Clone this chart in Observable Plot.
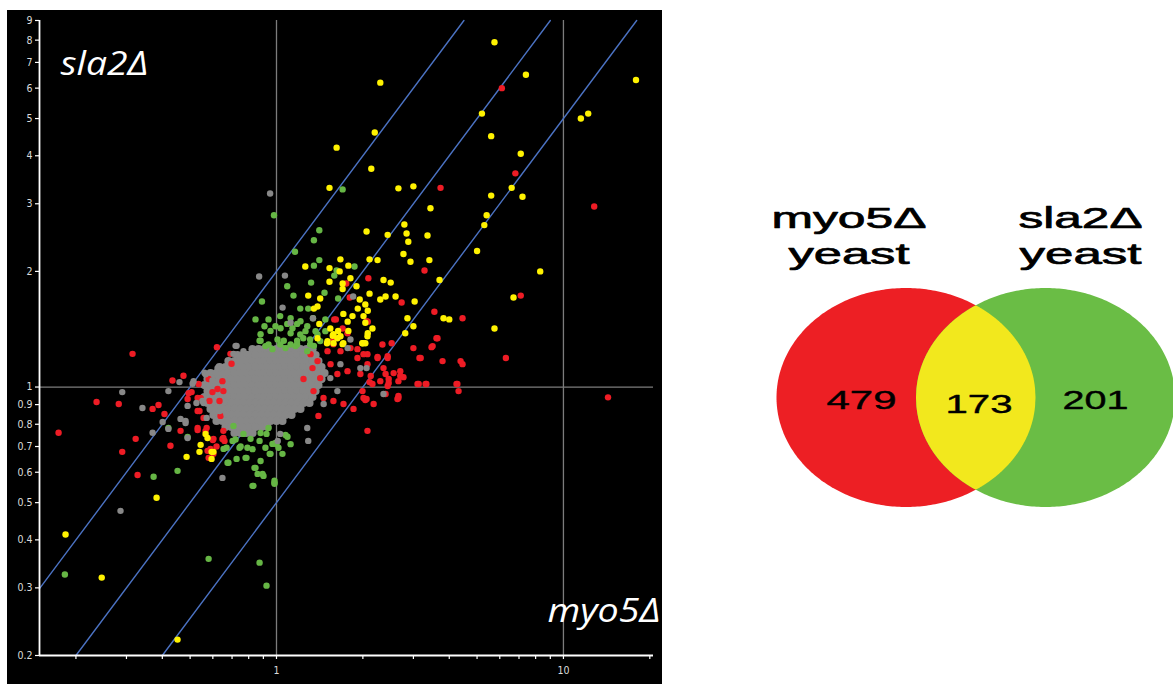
<!DOCTYPE html>
<html><head><meta charset="utf-8">
<script src="https://cdn.jsdelivr.net/npm/d3@7"></script>
<script src="https://cdn.jsdelivr.net/npm/@observablehq/plot@0.6"></script>
<style>
body{margin:0;background:#fff;width:1173px;height:684px;position:relative;overflow:hidden;font-family:"Liberation Sans",Arial,sans-serif}
#scatter{position:absolute;left:7px;top:10px;}
#venn{position:absolute;left:760px;top:190px;}
</style></head><body>
<div id="scatter"></div><div id="venn"></div>
<script>
// ---------- data ----------
const xTicks = [0.2,0.3,0.4,0.5,0.6,0.7,0.8,0.9,1,2,3,4,5,6,7,8,9,10,20];
const xTickLabels = [1,10];
const yTicks = [0.2,0.3,0.4,0.5,0.6,0.7,0.8,0.9,1,2,3,4,5,6,7,8,9];
const foldLines = [2,1,0.5];
const xLabel = "myo5Δ";
const yLabel = "sla2Δ";

// dense gray core: [y, x values]
const grayRows = [
 [1.255,[0.825,0.866,0.908,0.953,1.0,1.049,1.101,1.155,1.212,1.272,1.335]],
 [1.211,[0.731,0.767,0.805,0.845,0.887,0.930,0.976,1.024,1.075,1.128,1.184,1.242,1.303,1.368]],
 [1.168,[0.680,0.714,0.749,0.786,0.825,0.866,0.908,0.953,1.0,1.049,1.101,1.155,1.212,1.272,1.335,1.400]],
 [1.127,[0.633,0.664,0.697,0.731,0.767,0.805,0.845,0.887,0.930,0.976,1.024,1.075,1.128,1.184,1.242,1.303,1.368,1.435]],
 [1.087,[0.589,0.618,0.648,0.680,0.714,0.749,0.786,0.825,0.866,0.908,0.953,1.0,1.049,1.101,1.155,1.212,1.272,1.335,1.400,1.470]],
 [1.049,[0.575,0.603,0.633,0.664,0.697,0.731,0.767,0.805,0.845,0.887,0.930,0.976,1.024,1.075,1.128,1.184,1.242,1.303,1.368,1.435]],
 [1.012,[0.561,0.589,0.618,0.648,0.680,0.714,0.749,0.786,0.825,0.866,0.908,0.953,1.0,1.049,1.101,1.155,1.212,1.272,1.335,1.400]],
 [0.976,[0.575,0.603,0.633,0.664,0.697,0.731,0.767,0.805,0.845,0.887,0.930,0.976,1.024,1.075,1.128,1.184,1.242,1.303,1.368]],
 [0.942,[0.561,0.589,0.618,0.648,0.680,0.714,0.749,0.786,0.825,0.866,0.908,0.953,1.0,1.049,1.101,1.155,1.212,1.272,1.335]],
 [0.909,[0.575,0.603,0.633,0.664,0.697,0.731,0.767,0.805,0.845,0.887,0.930,0.976,1.024,1.075,1.128,1.184,1.242,1.303]],
 [0.877,[0.589,0.618,0.648,0.680,0.714,0.749,0.786,0.825,0.866,0.908,0.953,1.0,1.049,1.101,1.155,1.212]],
 [0.846,[0.603,0.633,0.664,0.697,0.731,0.767,0.805,0.845,0.887,0.930,0.976,1.024,1.075,1.128]],
 [0.816,[0.618,0.648,0.680,0.714,0.749,0.786,0.825,0.866,0.908,0.953,1.0,1.049]],
 [0.787,[0.664,0.697,0.731,0.767,0.805,0.845,0.887,0.930]],
 [0.759,[0.714,0.749,0.786,0.825]]
];
const grayOut = [[0.95,3.19],[0.87,1.94],[1.07,1.95],[1.12,1.47],[1.05,1.61],[1.34,1.51],[1.85,1.72],[1.81,1.33],[0.72,1.28],[0.708,1.22],[0.767,1.24],[0.633,1.12],[0.726,1.28],[0.786,1.22],[0.459,1.03],[0.29,0.97],[0.341,0.882],[0.42,0.976],[0.463,0.826],[0.482,0.806],[0.401,0.811],[0.42,0.778],[0.37,0.76],[0.286,0.476],[0.648,0.58],[0.561,1.09],[0.51,1.02],[0.526,0.909],[0.49,0.893],[0.598,1.04],[0.552,0.92],[0.571,0.831],[0.633,0.866],[0.67,0.851],[0.623,1.12],[0.566,1.08],[0.514,1.036],[0.557,0.909],[1.67,1.147],[1.77,1.263],[1.96,1.12],[1.54,1.055],[1.46,0.903],[1.63,0.976],[1.28,0.782],[1.03,0.755],[1.01,0.724],[1.29,0.724],[2.36,0.959],[0.49,0.737],[0.482,0.816],[2.06,1.12]];
const redPts = [[1.314,1.218],[1.39,1.168],[1.506,1.24],[1.579,1.293],[1.671,1.24],[1.811,1.263],[1.915,1.19],[2.01,1.218],[2.075,1.147],[2.25,1.19],[2.44,1.19],[2.36,1.12],[2.56,1.087],[2.70,1.068],[2.13,1.068],[1.96,1.081],[1.768,1.10],[1.63,1.081],[1.543,1.147],[1.42,1.055],[1.346,0.976],[1.458,0.936],[1.579,0.92],[1.712,0.903],[1.855,0.877],[2.01,0.936],[1.994,0.976],[2.16,1.018],[2.30,1.036],[2.46,1.049],[2.66,1.036],[2.70,1.10],[3.0,1.263],[3.18,1.19],[3.50,1.278],[3.64,1.34],[3.13,1.018],[3.31,1.018],[2.66,0.948],[2.64,0.931],[2.18,0.903],[2.40,0.959],[2.075,0.769],[1.40,0.841],[1.335,1.12],[1.242,1.049],[2.04,0.925],
[3.15,1.19],[3.79,1.168],[4.38,1.168],[4.45,1.147],[2.77,1.061],[2.40,1.081],[3.10,1.018],[3.33,1.018],[4.24,1.018],[4.27,1.018],[4.31,0.976],[2.66,0.936],[2.44,1.006],[2.46,1.024],[2.25,1.197],[2.44,1.203],[2.11,1.03],[2.06,0.931],
[2.06,1.484],[1.915,1.255],[2.075,1.218],[1.70,1.42],[1.579,1.33],[1.61,1.50],[1.768,1.38],[2.34,1.29],[2.52,1.30],[3.61,1.34],[3.47,1.27],
[2.09,1.92],[1.75,1.86],[1.80,1.71],[1.59,1.50],[2.73,1.66],[3.28,2.01],[3.55,1.57],[4.45,1.51],[2.08,1.48],
[6.1,6.0],[6.8,3.6],[3.73,3.3],[12.8,2.95],[7.1,1.73],[6.3,1.19],[14.3,0.94],
[0.315,1.22],[0.62,1.27],[0.691,1.22],[0.697,1.15],[0.474,1.07],[0.434,1.04],[0.236,0.914],[0.282,0.903],[0.37,0.877],[0.388,0.898],[0.407,0.851],[0.174,0.76],[0.323,0.733],[0.29,0.678],[0.463,0.769],[0.427,0.703],[0.328,0.59],
[0.531,0.773],[0.571,0.783],[0.575,0.682],[0.58,0.654],[0.6,0.728],[0.618,0.70],[0.648,0.732],[0.659,0.724],
[0.598,0.97],[0.633,0.92],[0.584,0.92],[0.539,0.866],[0.531,0.936],[0.49,0.931],[0.506,0.97],
[0.535,1.018],[0.58,1.049],[0.623,0.988],[0.648,1.036],[0.653,0.976],
[0.531,0.866],[0.557,0.831],[0.531,0.783],[0.566,0.769],[0.603,0.733],[0.589,0.69],[0.603,0.67],[0.653,0.769],
[0.494,0.964],[0.544,0.936],[0.638,0.841],[0.653,0.737]];
const greenPts = [[1.7,3.27],[0.98,2.8],[1.41,2.56],[1.35,2.41],[1.16,2.25],[1.09,1.83],[0.89,1.67],[0.845,1.50],[0.938,1.50],[0.908,1.44],[1.146,1.73],[1.41,2.14],[1.35,2.07],[1.32,1.87],[1.62,2.01],[1.59,1.95],[1.87,2.06],[1.64,1.70],[1.47,1.76],[1.21,1.60],[1.29,1.60],[1.12,1.51],[1.03,1.53],[1.09,1.46],[1.18,1.46],[1.28,1.44],[1.34,1.51],[0.953,1.40],[0.88,1.32],[1.008,1.33],[1.12,1.38],[1.21,1.37],[1.39,1.37],[1.03,1.29],[1.18,1.29],[1.31,1.29],[0.938,1.29],[0.873,1.32],[1.06,1.32],[1.24,1.34],[1.31,1.33],[1.35,1.28],[1.28,1.24],[1.12,1.29],[1.18,1.32],[0.915,1.278],[0.968,1.255],[1.075,1.263],[1.165,1.278],[1.42,1.317],[1.48,1.398],[1.368,1.398],[1.48,1.50],[1.262,1.398],[1.033,1.423],[1.137,1.423],[0.88,1.373],[0.992,1.44],[1.212,1.484],
[0.703,0.724],[0.743,0.695],[0.786,0.654],[0.825,0.689],[0.873,0.724],[0.923,0.755],[0.968,0.711],[0.67,0.695],[0.726,0.65],[0.675,0.635],[0.838,0.616],[0.894,0.594],[0.947,0.67],[0.825,0.553],[0.984,0.563],[1.0,0.71],[0.708,0.792],[0.767,0.755],[0.812,0.733],[0.88,0.759],[0.938,0.782],[0.792,0.695],[0.654,0.69],[0.68,0.635],[0.78,0.654],[0.88,0.642],[0.953,0.67],[1.049,0.67],[0.992,0.715],[1.092,0.742],[0.845,0.616],[0.859,0.594],[0.901,0.587],[0.831,0.553],[0.984,0.57],[0.984,0.56],[0.72,0.73],[0.75,0.70],[0.915,0.695],[1.016,0.695],[1.12,0.71],[1.075,0.75],
[0.49,0.741],[0.42,0.783],[0.373,0.584],[0.452,0.605],[0.183,0.325],[0.58,0.357],[0.873,0.349],[0.923,0.304]];
const yellowPts = [[5.75,7.9],[7.4,6.5],[2.3,6.2],[17.9,6.3],[11.5,5.0],[12.2,5.15],[5.2,5.15],[2.2,4.6],[1.62,4.2],[5.6,4.5],[7.1,4.05],[2.14,3.7],[1.53,3.3],[2.66,3.29],[3.0,3.33],[5.6,3.15],[6.6,3.3],[7.2,3.13],[3.44,2.92],[5.4,2.8],[5.3,2.64],[2.79,2.65],[2.84,2.51],[2.88,2.39],[3.36,2.48],[2.44,2.49],[2.06,2.54],[5.0,2.26],[8.3,2.0],[2.77,2.22],[2.93,2.12],[3.41,2.14],[6.7,1.71],[3.7,1.9],[3.82,1.51],[4.0,1.5],[5.75,1.42],[3.0,1.44],[2.81,1.38],[2.86,1.51],
[1.26,2.06],[1.67,2.15],[1.78,2.07],[1.53,2.04],[1.53,1.88],[1.66,2.0],[1.81,1.92],[1.9,1.83],[1.70,1.86],[1.70,1.80],[2.11,2.15],[2.25,2.14],[2.36,1.90],[2.5,1.87],[2.3,1.69],[2.4,1.72],[2.6,1.72],[3.03,1.67],[2.11,1.75],[2.04,1.64],[1.95,1.69],[1.92,1.60],[1.84,1.53],[2.01,1.53],[2.08,1.58],[2.04,1.47],[2.16,1.42],[2.08,1.38],[1.99,1.30],[2.04,1.30],[1.71,1.55],[1.77,1.48],[1.78,1.40],[1.64,1.40],[1.63,1.34],[1.71,1.30],[1.58,1.30],[1.50,1.30],[1.54,1.42],[1.57,1.36],[1.41,1.46],[1.42,1.70],[1.39,1.62],[1.35,1.60],[1.29,1.73],
[1.39,1.34],[1.506,1.317],[1.579,1.373],[1.671,1.356],[1.70,1.293],[2.0,1.30],[2.075,1.356],
[0.566,0.755],[0.575,0.737],[0.544,0.707],[0.539,0.678],[0.594,0.678],[0.603,0.678],[0.594,0.65],[0.486,0.658],[0.382,0.515],[0.184,0.413],[0.246,0.319],[0.452,0.220]];

const vennNames = ["myo5Δ\nyeast", "sla2Δ\nyeast"];
const vennCounts = [479, 173, 201]; // only myo5Δ, both, only sla2Δ

// ---------- scatter ----------
const xDom = [0.1493, 20.6], yDom = [0.2, 9];
const pxX = 287, pxY = 384; // pixels per decade
const tickLen = 4;
const refLines = foldLines.flatMap(k => [
  {k, x: Math.max(xDom[0], yDom[0] / k), y: Math.max(xDom[0], yDom[0] / k) * k},
  {k, x: Math.min(xDom[1], yDom[1] / k), y: Math.min(xDom[1], yDom[1] / k) * k}
]);
const grayCore = grayRows.flatMap(([y, xs]) => xs.map(x => [x, y]));
const dot = (data, fill, r) => Plot.dot(data, {x: d => d[0], y: d => d[1], r, fill, stroke: null});
const axisFont = "'Liberation Sans Narrow','DejaVu Sans Condensed','Roboto Condensed',sans-serif";

const scatter = Plot.plot({
  width: 655, height: 674,
  marginLeft: 32, marginRight: 9, marginTop: 10, marginBottom: 29,
  style: {background: "#000", color: "#e4e4e4", fontSize: "10px", fontFamily: axisFont, overflow: "visible"},
  x: {type: "log", domain: xDom, axis: null},
  y: {type: "log", domain: yDom, axis: null},
  marks: [
    Plot.ruleX([1, 10], {stroke: "#7c7c7c", strokeWidth: 1.3}),
    Plot.ruleY([1], {stroke: "#7c7c7c", strokeWidth: 1.3}),
    Plot.line(refLines, {x: "x", y: "y", z: "k", stroke: "#4b72c2", strokeWidth: 1.4}),
    dot(grayCore, "#888888", 4.1),
    dot(redPts, "#ee1c25", 3.2),
    dot(greenPts, "#66b645", 3.2),
    dot(yellowPts, "#fff200", 3.2),
    dot(grayOut, "#888888", 3.2),
    // axes (drawn by hand)
    Plot.ruleY(yTicks, {y: d => d, x1: xDom[0] * 10 ** (-tickLen / pxX), x2: xDom[0], stroke: "#fff", strokeWidth: 1.2}),
    Plot.ruleX(xTicks, {x: d => d, y1: yDom[0] * 10 ** (-tickLen / pxY), y2: yDom[0], stroke: "#fff", strokeWidth: 1.2}),
    Plot.ruleX([xDom[0]], {stroke: "#fff", strokeWidth: 1.8}),
    Plot.ruleY([yDom[0]], {stroke: "#fff", strokeWidth: 1.8}),
    Plot.text(yTicks, {x: xDom[0], y: d => d, text: d => String(d), textAnchor: "end", dx: -7, fill: "#dcdcdc", fontSize: 10.5}),
    Plot.text(xTickLabels, {x: d => d, y: yDom[0], text: d => String(d), dy: 15, fill: "#dcdcdc", fontSize: 10.5}),
    Plot.text([yLabel], {text: d => d, frameAnchor: "top-left", textAnchor: "start", dx: 21, dy: 31.5,
      fill: "#fff", fontSize: 33, fontStyle: "italic", fontFamily: "'Open Sans',Lato,sans-serif"}),
    Plot.text([xLabel], {text: d => d, frameAnchor: "bottom-right", textAnchor: "end", dx: 7, dy: -34,
      fill: "#fff", fontSize: 33, fontStyle: "italic", fontFamily: "'Open Sans',Lato,sans-serif"})
  ]
});
const labs = scatter.querySelectorAll('g[aria-label="text"]');
[[88], [113]].forEach((w, k) => {
  const g = labs[labs.length - 2 + k];
  g.querySelectorAll("text").forEach((t, i) => {
    t.setAttribute("textLength", w[i]);
    t.setAttribute("lengthAdjust", "spacingAndGlyphs");
  });
});
document.getElementById("scatter").appendChild(scatter);

// ---------- venn ----------
const E = {ry: 109.5, rx: 129.5, cy: 207.5, c: [146, 285.5]};
const ellipse = cx => d3.range(0, 181).map(i => {
  const t = Math.PI * i / 180, h = E.ry * Math.sin(t);
  return {x: cx - E.rx * Math.cos(t), y1: E.cy - h, y2: E.cy + h};
});
const half = (cx, x) => E.ry * Math.sqrt(Math.max(0, 1 - ((x - cx) / E.rx) ** 2));
const lens = d3.range(E.c[1] - E.rx, E.c[0] + E.rx + 0.01, 0.5).map(x => {
  const h = Math.min(half(E.c[0], x), half(E.c[1], x));
  return {x, y1: E.cy - h, y2: E.cy + h};
});
const titleLines = vennNames.flatMap((n, i) => n.split("\n").map((line, j) => ({line, i, j})));
const titleX = [88.5, 320], titleY = [27.4, 63.4];
const countX = [101, 218.5, 335], countY = [209.7, 213.7, 209.7];

const venn = Plot.plot({
  width: 413, height: 330, margin: 0,
  x: {domain: [0, 413], axis: null},
  y: {domain: [0, 330], range: [0, 330], axis: null},
  style: {background: "transparent", overflow: "hidden", fontFamily: "'Liberation Sans',Arial,sans-serif"},
  marks: [
    Plot.areaY(ellipse(E.c[0]), {x: "x", y1: "y1", y2: "y2", fill: "#ed1f24"}),
    Plot.areaY(ellipse(E.c[1]), {x: "x", y1: "y1", y2: "y2", fill: "#6abd45"}),
    Plot.areaY(lens, {x: "x", y1: "y1", y2: "y2", fill: "#f2e81d"}),
    Plot.text(titleLines, {x: d => titleX[d.i], y: d => titleY[d.j], text: "line", fontSize: 30, fill: "#000",
      stroke: "#000", strokeWidth: 0.7, textAnchor: "middle"}),
    Plot.text(vennCounts, {x: (d, i) => countX[i], y: (d, i) => countY[i], text: d => String(d), fontSize: 26, fill: "#000",
      stroke: "#000", strokeWidth: 0.4, textAnchor: "middle"})
  ]
});
const vennW = [155, 121, 124, 122, 70, 67, 66];
venn.querySelectorAll('g[aria-label="text"] text').forEach((t, i) => {
  t.setAttribute("textLength", vennW[i]);
  t.setAttribute("lengthAdjust", "spacingAndGlyphs");
});
document.getElementById("venn").appendChild(venn);
</script></body></html>
